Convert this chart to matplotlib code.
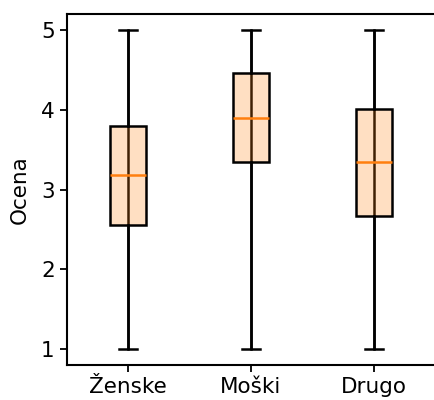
import matplotlib
matplotlib.use("Agg")
import matplotlib.pyplot as plt

# gender groups and their rating distributions
groups = ["Ženske", "Moški", "Drugo"]
whislo = [1, 1, 1]
q1 = [2.55, 3.35, 2.67]
med = [3.18, 3.90, 3.34]
q3 = [3.79, 4.46, 4.01]
whishi = [5, 5, 5]

stats = []
for i, g in enumerate(groups):
    stats.append({"label": g, "whislo": whislo[i], "q1": q1[i], "med": med[i],
                  "q3": q3[i], "whishi": whishi[i], "fliers": []})

fig = plt.figure(figsize=(4.35, 4.0), dpi=100)
ax = fig.add_axes([0.153, 0.0875, 0.848, 0.8775])

pos = list(range(1, len(groups) + 1))
# full range line behind the semi-transparent box
ax.vlines(pos, whislo, whishi, color="black", lw=1.8, zorder=1)
ax.bxp(stats, positions=pos, widths=0.3, patch_artist=True, showfliers=False,
       boxprops=dict(facecolor=(1.0, 0.5, 0.05, 0.25), edgecolor="black", lw=1.8, zorder=2),
       whiskerprops=dict(color="black", lw=1.8),
       capprops=dict(color="black", lw=1.8),
       medianprops=dict(color="#ff7f0e", lw=1.8, zorder=3))

ax.set_ylabel("Ocena", fontsize=15.5, labelpad=8)
ax.set_yticks([1, 2, 3, 4, 5])
ax.tick_params(labelsize=15.5, width=1.3, length=5)
for s in ax.spines.values():
    s.set_linewidth(1.5)

fig.savefig("out.png", dpi=100)
